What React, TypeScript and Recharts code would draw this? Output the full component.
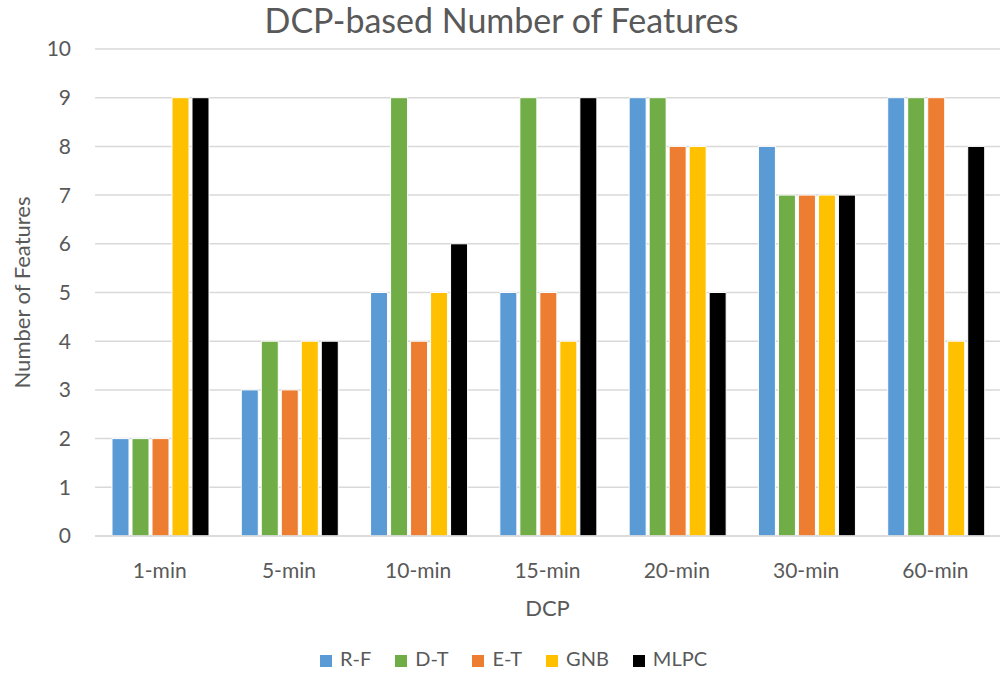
import { Bar, BarChart, CartesianGrid, Label, Legend, XAxis, YAxis } from "recharts";

// DCP windows along the x axis
const categories = ["1-min", "5-min", "10-min", "15-min", "20-min", "30-min", "60-min"];

// selected feature counts per classifier
const rf = [2, 3, 5, 5, 9, 8, 9];
const dt = [2, 4, 9, 9, 9, 7, 9];
const et = [2, 3, 4, 5, 8, 7, 9];
const gnb = [9, 4, 5, 4, 8, 7, 4];
const mlpc = [9, 4, 6, 9, 5, 7, 8];

const yTicks = [0, 1, 2, 3, 4, 5, 6, 7, 8, 9, 10];

const series = [
  { key: "rf", name: "R-F", color: "#5B9BD5" },
  { key: "dt", name: "D-T", color: "#70AD47" },
  { key: "et", name: "E-T", color: "#ED7D31" },
  { key: "gnb", name: "GNB", color: "#FFC000" },
  { key: "mlpc", name: "MLPC", color: "#000000" },
];

const data = categories.map((label, i) => ({
  label,
  rf: rf[i],
  dt: dt[i],
  et: et[i],
  gnb: gnb[i],
  mlpc: mlpc[i],
}));

const FONT = "Lato, 'Open Sans', sans-serif";
const INK = "#595959";
const RULE = "#D9D9D9";

const TICK = { fontSize: 21, fill: INK, fontFamily: FONT };

// keep legend in series order instead of alphabetical
const legendOrder = (item: any) => series.findIndex((s) => s.name === item.value);

export default function App() {
  return (
    <div style={{ position: "absolute", left: 0, top: 0, width: 1003, height: 675, background: "#fff", fontFamily: FONT }}>
      <div
        style={{
          position: "absolute",
          top: 0,
          left: 0,
          width: 1003,
          textAlign: "center",
          fontSize: 34,
          color: INK,
          lineHeight: "40px",
        }}
      >
        DCP-based Number of Features
      </div>
      <BarChart
        width={1003}
        height={675}
        data={data}
        margin={{ top: 49, right: 3, bottom: 33, left: 0 }}
        barCategoryGap={17}
        barGap={3}
      >
        <CartesianGrid stroke={RULE} strokeWidth={1.5} vertical={false} />
        <XAxis
          dataKey="label"
          height={80}
          tick={TICK}
          tickLine={false}
          tickMargin={21}
          axisLine={{ stroke: RULE, strokeWidth: 1.5 }}
        >
          <Label value="DCP" position="insideBottom" offset={0} style={{ fontSize: 22, fill: INK, fontFamily: FONT }} />
        </XAxis>
        <YAxis
          width={95}
          domain={[0, 10]}
          ticks={yTicks}
          interval={0}
          tick={TICK}
          tickLine={false}
          axisLine={false}
          tickMargin={18}
        >
          <Label
            value="Number of Features"
            angle={-90}
            position="insideLeft"
            offset={22}
            style={{ fontSize: 22, fill: INK, fontFamily: FONT, textAnchor: "middle" }}
          />
        </YAxis>
        <Legend
          verticalAlign="bottom"
          iconType="square"
          iconSize={12}
          itemSorter={legendOrder}
          wrapperStyle={{ top: 646, left: 24, width: 1003, height: 26, fontSize: 20, fontFamily: FONT }}
          formatter={(value) => <span style={{ color: INK, marginLeft: 4, marginRight: 14 }}>{value}</span>}
        />
        {series.map((s) => (
          <Bar
            key={s.key}
            dataKey={s.key}
            name={s.name}
            fill={s.color}
            stroke="#ffffff"
            strokeWidth={1}
            isAnimationActive={false}
          />
        ))}
      </BarChart>
    </div>
  );
}
